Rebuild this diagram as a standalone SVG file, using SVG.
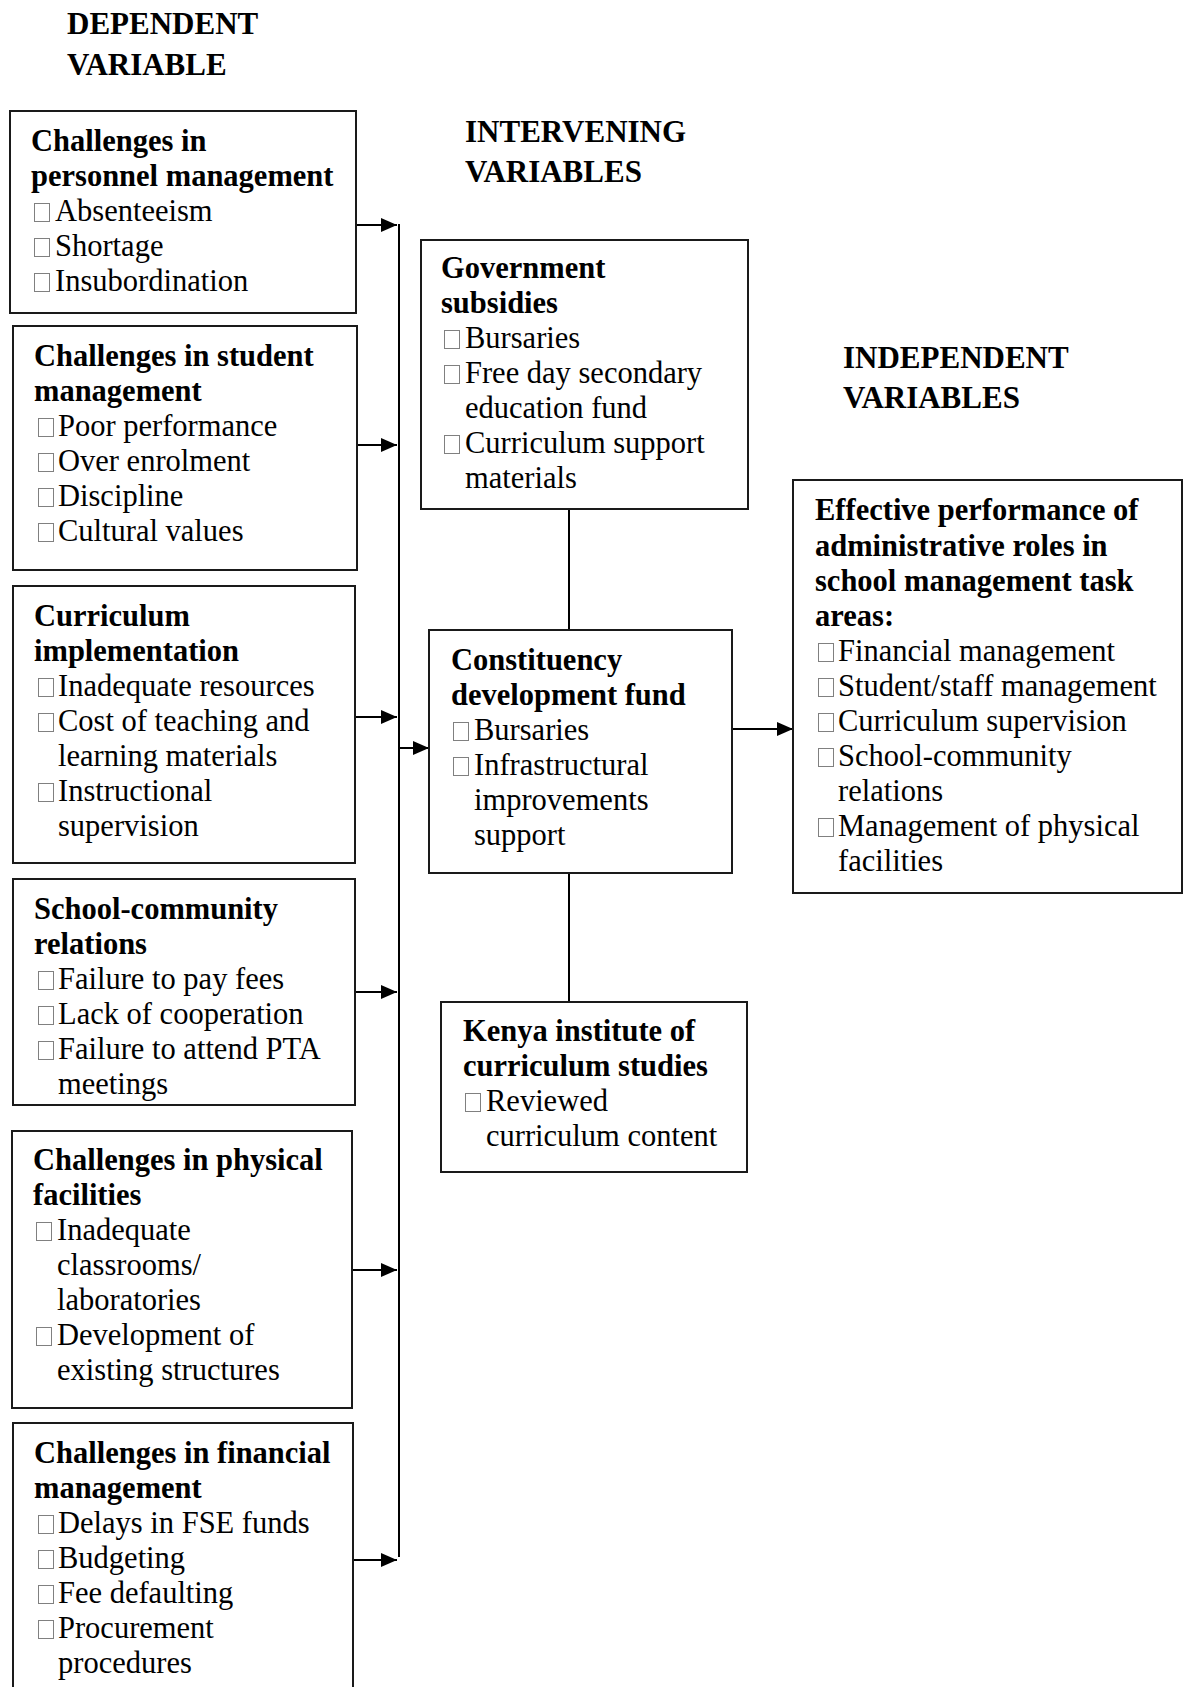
<svg xmlns="http://www.w3.org/2000/svg" width="1185" height="1687" viewBox="0 0 1185 1687">
<style>
.box{fill:#fff;stroke:#1a1a1a;stroke-width:2}
.b{fill:#fff;stroke:#808080;stroke-width:1}
.title{font-family:"Liberation Serif","Times New Roman",serif;font-weight:bold;font-size:31px;fill:#000}
.h{font-family:"Liberation Serif","Times New Roman",serif;font-weight:bold;font-size:30.5px;fill:#000}
.t{font-family:"Liberation Serif","Times New Roman",serif;font-size:30.5px;fill:#000}
.c{stroke:#000;stroke-width:2;fill:none}
</style>
<defs>
<marker id="ah" markerUnits="userSpaceOnUse" markerWidth="16" markerHeight="14" refX="16" refY="7" orient="auto">
<path d="M0,0 L16,7 L0,14 z" fill="#000"/>
</marker>
</defs>
<rect width="1185" height="1687" fill="#fff"/>

<g id="titles">
<text class="title" x="67" y="34">DEPENDENT</text>
<text class="title" x="67" y="75">VARIABLE</text>
<text class="title" x="465" y="142">INTERVENING</text>
<text class="title" x="465" y="182">VARIABLES</text>
<text class="title" x="843" y="368">INDEPENDENT</text>
<text class="title" x="843" y="408">VARIABLES</text>
</g>

<g id="connectors">
<line class="c" x1="356" y1="225" x2="397" y2="225" marker-end="url(#ah)"/>
<line class="c" x1="357" y1="445" x2="397" y2="445" marker-end="url(#ah)"/>
<line class="c" x1="355" y1="717" x2="397" y2="717" marker-end="url(#ah)"/>
<line class="c" x1="353" y1="992" x2="397" y2="992" marker-end="url(#ah)"/>
<line class="c" x1="352" y1="1270" x2="397" y2="1270" marker-end="url(#ah)"/>
<line class="c" x1="353" y1="1560" x2="397" y2="1560" marker-end="url(#ah)"/>
<line class="c" x1="399" y1="224" x2="399" y2="1557"/>
<line class="c" x1="399" y1="748" x2="429" y2="748" marker-end="url(#ah)"/>
<line class="c" x1="569" y1="509" x2="569" y2="630"/>
<line class="c" x1="569" y1="873" x2="569" y2="1002"/>
<line class="c" x1="732" y1="729" x2="793" y2="729" marker-end="url(#ah)"/>
</g>

<g id="personnel">
<rect class="box" x="10" y="111" width="346" height="202"/>
<text class="h" x="31" y="151">Challenges in</text>
<text class="h" x="31" y="186">personnel management</text>
<rect class="b" x="34.5" y="203.5" width="15" height="18"/><text class="t" x="55" y="221">Absenteeism</text>
<rect class="b" x="34.5" y="238.5" width="15" height="18"/><text class="t" x="55" y="256">Shortage</text>
<rect class="b" x="34.5" y="273.5" width="15" height="18"/><text class="t" x="55" y="291">Insubordination</text>
</g>

<g id="student">
<rect class="box" x="13" y="326" width="344" height="244"/>
<text class="h" x="34" y="366">Challenges in student</text>
<text class="h" x="34" y="401">management</text>
<rect class="b" x="38.5" y="418.5" width="15" height="18"/><text class="t" x="58" y="436">Poor performance</text>
<rect class="b" x="38.5" y="453.5" width="15" height="18"/><text class="t" x="58" y="471">Over enrolment</text>
<rect class="b" x="38.5" y="488.5" width="15" height="18"/><text class="t" x="58" y="506">Discipline</text>
<rect class="b" x="38.5" y="523.5" width="15" height="18"/><text class="t" x="58" y="541">Cultural values</text>
</g>

<g id="curriculum">
<rect class="box" x="13" y="586" width="342" height="277"/>
<text class="h" x="34" y="626">Curriculum</text>
<text class="h" x="34" y="661">implementation</text>
<rect class="b" x="38.5" y="678.5" width="15" height="18"/><text class="t" x="58" y="696">Inadequate resources</text>
<rect class="b" x="38.5" y="713.5" width="15" height="18"/><text class="t" x="58" y="731">Cost of teaching and</text>
<text class="t" x="58" y="766">learning materials</text>
<rect class="b" x="38.5" y="783.5" width="15" height="18"/><text class="t" x="58" y="801">Instructional</text>
<text class="t" x="58" y="836">supervision</text>
</g>

<g id="community">
<rect class="box" x="13" y="879" width="342" height="226"/>
<text class="h" x="34" y="919">School-community</text>
<text class="h" x="34" y="954">relations</text>
<rect class="b" x="38.5" y="971.5" width="15" height="18"/><text class="t" x="58" y="989">Failure to pay fees</text>
<rect class="b" x="38.5" y="1006.5" width="15" height="18"/><text class="t" x="58" y="1024">Lack of cooperation</text>
<rect class="b" x="38.5" y="1041.5" width="15" height="18"/><text class="t" x="58" y="1059">Failure to attend PTA</text>
<text class="t" x="58" y="1094">meetings</text>
</g>

<g id="physical">
<rect class="box" x="12" y="1131" width="340" height="277"/>
<text class="h" x="33" y="1170">Challenges in physical</text>
<text class="h" x="33" y="1205">facilities</text>
<rect class="b" x="36.5" y="1222.5" width="15" height="18"/><text class="t" x="57" y="1240">Inadequate</text>
<text class="t" x="57" y="1275">classrooms/</text>
<text class="t" x="57" y="1310">laboratories</text>
<rect class="b" x="36.5" y="1327.5" width="15" height="18"/><text class="t" x="57" y="1345">Development of</text>
<text class="t" x="57" y="1380">existing structures</text>
</g>

<g id="financial">
<rect class="box" x="13" y="1423" width="340" height="290"/>
<text class="h" x="34" y="1463">Challenges in financial</text>
<text class="h" x="34" y="1498">management</text>
<rect class="b" x="38.5" y="1515.5" width="15" height="18"/><text class="t" x="58" y="1533">Delays in FSE funds</text>
<rect class="b" x="38.5" y="1550.5" width="15" height="18"/><text class="t" x="58" y="1568">Budgeting</text>
<rect class="b" x="38.5" y="1585.5" width="15" height="18"/><text class="t" x="58" y="1603">Fee defaulting</text>
<rect class="b" x="38.5" y="1620.5" width="15" height="18"/><text class="t" x="58" y="1638">Procurement</text>
<text class="t" x="58" y="1673">procedures</text>
</g>

<g id="government">
<rect class="box" x="421" y="240" width="327" height="269"/>
<text class="h" x="441" y="278">Government</text>
<text class="h" x="441" y="313">subsidies</text>
<rect class="b" x="444.5" y="330.5" width="15" height="18"/><text class="t" x="465" y="348">Bursaries</text>
<rect class="b" x="444.5" y="365.5" width="15" height="18"/><text class="t" x="465" y="383">Free day secondary</text>
<text class="t" x="465" y="418">education fund</text>
<rect class="b" x="444.5" y="435.5" width="15" height="18"/><text class="t" x="465" y="453">Curriculum support</text>
<text class="t" x="465" y="488">materials</text>
</g>

<g id="cdf">
<rect class="box" x="429" y="630" width="303" height="243"/>
<text class="h" x="451" y="670">Constituency</text>
<text class="h" x="451" y="705">development fund</text>
<rect class="b" x="453.5" y="722.5" width="15" height="18"/><text class="t" x="474" y="740">Bursaries</text>
<rect class="b" x="453.5" y="757.5" width="15" height="18"/><text class="t" x="474" y="775">Infrastructural</text>
<text class="t" x="474" y="810">improvements</text>
<text class="t" x="474" y="845">support</text>
</g>

<g id="kics">
<rect class="box" x="441" y="1002" width="306" height="170"/>
<text class="h" x="463" y="1041">Kenya institute of</text>
<text class="h" x="463" y="1076">curriculum studies</text>
<rect class="b" x="465.5" y="1093.5" width="15" height="18"/><text class="t" x="486" y="1111">Reviewed</text>
<text class="t" x="486" y="1146">curriculum content</text>
</g>

<g id="effective">
<rect class="box" x="793" y="480" width="389" height="413"/>
<text class="h" x="815" y="520">Effective performance of</text>
<text class="h" x="815" y="556">administrative roles in</text>
<text class="h" x="815" y="591">school management task</text>
<text class="h" x="815" y="626">areas:</text>
<rect class="b" x="818.5" y="643.5" width="15" height="18"/><text class="t" x="838" y="661">Financial management</text>
<rect class="b" x="818.5" y="678.5" width="15" height="18"/><text class="t" x="838" y="696">Student/staff management</text>
<rect class="b" x="818.5" y="713.5" width="15" height="18"/><text class="t" x="838" y="731">Curriculum supervision</text>
<rect class="b" x="818.5" y="748.5" width="15" height="18"/><text class="t" x="838" y="766">School-community</text>
<text class="t" x="838" y="801">relations</text>
<rect class="b" x="818.5" y="818.5" width="15" height="18"/><text class="t" x="838" y="836">Management of physical</text>
<text class="t" x="838" y="871">facilities</text>
</g>
</svg>
